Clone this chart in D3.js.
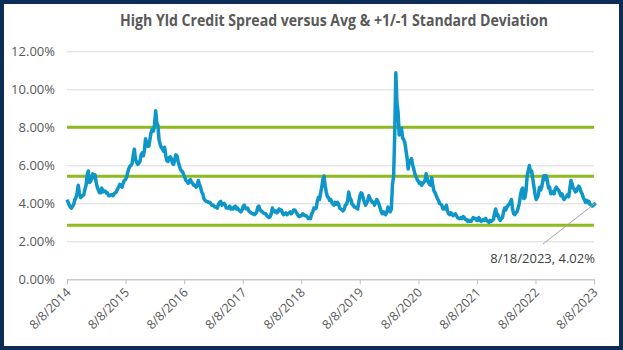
<!DOCTYPE html>
<html><head><meta charset="utf-8">
<script src="https://cdn.jsdelivr.net/npm/d3@7"></script>
<style>
html,body{margin:0;padding:0;background:#fff;}
svg{display:block;}
text{font-family:"Open Sans","Liberation Sans",sans-serif;}
</style></head>
<body><svg id="c" width="623" height="350"></svg>
<script>
const title = "High Yld Credit Spread versus Avg & +1/-1 Standard Deviation";
const startDate = "2014-08-08";
const stepDays = 7;
const spread2014 = [4.19,4.05,3.90,3.80, 3.75,3.85,3.95,4.20, 4.30,4.55,4.95,4.55,4.30, 4.35,4.40,4.45,4.75, 4.95,5.50,5.70,5.10, 5.15,5.30,5.55,5.35,5.50, 5.10,4.85,4.70,4.55, 4.55,4.80,4.60,4.65, 4.65,4.55,4.55,4.40, 4.40,4.45,4.45,4.40,4.50, 4.55,4.60,4.75,4.85, 5.00,4.95,4.85,5.05,5.20];
const spread2015 = [5.25,5.35,5.60,5.80, 5.95,6.00,6.10,6.50, 6.85,6.35,6.15,6.05,6.10, 6.20,6.55,6.65,6.50, 6.80,7.40,7.15,7.00, 7.00,7.40,7.75,7.90,7.80, 8.15,8.87,8.25,8.10, 7.35,7.10,6.95,6.85, 6.75,6.95,6.50,6.25,6.20, 6.40,6.45,6.35,6.10, 6.05,6.30,6.55,6.50, 6.20,6.00,5.80,5.70,5.65, 5.50];
const spread2016 = [5.35,5.20,5.15, 5.05,5.20,5.25,5.10,5.05, 4.95,4.95,4.85,4.90, 5.20,5.00,4.85,4.60, 4.50,4.25,4.15,4.10,4.10, 4.05,4.05,4.00,3.90, 3.90,3.85,3.80,3.80, 3.75,3.95,4.05,4.10,3.90, 3.95,4.00,3.90,3.75, 3.75,3.75,3.85,3.70, 3.75,3.70,3.80,3.85,3.70, 3.75,3.65,3.60,3.55, 3.65];
const spread2017 = [3.85,3.90,3.75, 3.70,3.75,3.60,3.55,3.50, 3.45,3.45,3.40,3.45, 3.55,3.80,3.85,3.65, 3.60,3.55,3.50,3.45,3.45, 3.35,3.30,3.25,3.30, 3.45,3.75,3.60,3.55, 3.60,3.50,3.55,3.70,3.65, 3.65,3.50,3.40,3.45, 3.50,3.40,3.45,3.50, 3.55,3.45,3.55,3.65,3.65, 3.55,3.45,3.35,3.30, 3.35];
const spread2018 = [3.35,3.45,3.40,3.35, 3.35,3.30,3.20,3.20, 3.20,3.45,3.55,3.75, 3.70,3.75,4.10,4.30,4.20, 4.55,4.85,5.25,5.44, 4.95,4.60,4.35,4.30, 4.15,4.20,4.05,3.95, 3.90,4.05,3.95,4.05,3.95, 3.75,3.70,3.65,3.60, 3.70,3.90,3.95,4.10,4.60, 4.30,4.20,3.95,3.90, 3.80,3.80,3.75,3.70, 4.05];
const spread2019 = [4.40,4.55,4.50,4.25, 4.05,3.90,4.00,4.15, 4.40,4.25,4.15,4.05, 4.05,3.90,4.05,4.20,4.10, 3.95,3.75,3.55,3.45, 3.55,3.45,3.40,3.55,3.80, 3.65,3.55,3.70,5.00, 5.40,7.60,10.87,9.30, 8.80,7.60,7.85,7.95, 7.45,7.35,7.20,6.80,6.40, 5.80,6.25,6.15,6.35, 6.00,5.80,5.55,5.40,5.25, 5.15];
const spread2020 = [5.05,5.10,4.95, 5.05,5.10,5.20,5.55, 5.30,5.10,5.00,4.95,5.35, 4.90,4.65,4.55,4.40, 4.25,4.15,4.00,3.95, 3.90,3.70,3.75,3.70,3.90, 3.60,3.45,3.40,3.50, 3.45,3.35,3.40,3.45, 3.35,3.25,3.20,3.20,3.25, 3.20,3.30,3.25,3.15, 3.15,3.05,3.10,3.05, 3.05,3.15,3.25,3.20,3.20, 3.10];
const spread2021 = [3.10,3.25,3.10, 3.05,3.10,3.15,3.10, 3.20,3.10,3.05,3.00,3.10, 3.05,3.10,3.15,3.50, 3.70,3.35,3.40,3.20,3.10, 3.20,3.25,3.55,3.75, 3.65,3.80,3.90,3.95, 4.05,4.20,3.70,3.45, 3.40,3.50,3.55,3.75,4.00, 4.40,4.70,4.80,4.25, 4.30,4.65,5.45,5.70, 5.99,5.65,5.70,5.30,4.90, 4.50];
const spread2022 = [4.20,4.30,4.45, 4.85,4.70,4.85,5.20,5.45, 5.25,5.45,5.20,4.80, 4.85,4.50,4.55,4.60, 4.50,4.75,4.85,4.75,4.70, 4.55,4.40,4.50,4.30, 4.20,4.30,4.35,4.45, 4.35,4.75,5.20,5.05,4.80, 4.75,4.60,4.65,4.80, 4.90,4.80,4.60,4.50, 4.30,4.20,4.05,4.15,4.05, 4.10,3.95,3.90,3.85, 3.90,3.95,4.02];
const tickDates = ["2014-08-08","2015-08-08","2016-08-08","2017-08-08","2018-08-08","2019-08-08","2020-08-08","2021-08-08","2022-08-08","2023-08-08"];
const yTicks = [0,2,4,6,8,10,12];
const bandLevels = [2.84, 5.42, 8.00]; // -1 SD, average, +1 SD

const spreads = [].concat(spread2014,spread2015,spread2016,spread2017,spread2018,spread2019,spread2020,spread2021,spread2022);
const parse = d3.utcParse("%Y-%m-%d");
const t0 = parse(startDate);
const data = spreads.map((v,i)=>({date:d3.utcDay.offset(t0, i*stepDays), value:v}));

const svg = d3.select("#c");
const W=623,H=350;
const M={left:67,right:594,top:51.3,bottom:279.3};

svg.append("rect").attr("x",2).attr("y",2).attr("width",W-4).attr("height",H-4)
  .attr("fill","#fff").attr("stroke","#0d2d57").attr("stroke-width",4);

const x = d3.scaleUtc().domain([parse(tickDates[0]), parse(tickDates[tickDates.length-1])]).range([M.left,M.right]);
const y = d3.scaleLinear().domain([0,12]).range([M.bottom,M.top]);

// title
svg.append("text").attr("x",334).attr("y",26).attr("text-anchor","middle")
  .attr("font-size",15.5).attr("font-weight","bold").attr("fill","#595959")
  .attr("textLength",428).attr("lengthAdjust","spacingAndGlyphs").text(title);

// grid
const yAxis = d3.axisLeft(y).tickValues(yTicks).tickSize(-(M.right-M.left)).tickFormat(d=>d3.format(".2f")(d)+"%");
const gy = svg.append("g").attr("transform",`translate(${M.left},0)`).call(yAxis);
gy.select(".domain").remove();
gy.selectAll(".tick line").attr("stroke","#d9d9d9").attr("stroke-width",1);
gy.selectAll(".tick text").attr("x",-12).attr("font-size",13).attr("fill","#595959")
  .attr("font-family","'Liberation Sans',sans-serif");

// x axis
const xAxis = d3.axisBottom(x).tickValues(tickDates.map(parse)).tickSize(5)
  .tickFormat(d=>`${d.getUTCMonth()+1}/${d.getUTCDate()}/${d.getUTCFullYear()}`);
const gx = svg.append("g").attr("transform",`translate(0,${M.bottom})`).call(xAxis);
gx.select(".domain").attr("stroke","#bfbfbf");
gx.selectAll(".tick line").attr("stroke","#bfbfbf");
gx.selectAll(".tick text").attr("font-size",12.5).attr("fill","#595959")
  .attr("font-family","'Liberation Sans',sans-serif")
  .attr("text-anchor","end").attr("dy",0).attr("y",0)
  .attr("transform","translate(4,14) rotate(-45)");

// band lines
svg.append("g").selectAll("line").data(bandLevels).join("line")
  .attr("x1",M.left).attr("x2",M.right).attr("y1",d=>y(d)).attr("y2",d=>y(d))
  .attr("stroke","#8cba1f").attr("stroke-width",3);

// series
const line = d3.line().x(d=>x(d.date)).y(d=>y(d.value));
svg.append("path").datum(data).attr("d",line).attr("fill","none")
  .attr("stroke","#0e96c9").attr("stroke-width",3.5).attr("stroke-linejoin","round");

// annotation
const last = data[data.length-1];
const fmt = d3.utcFormat("%-m/%-d/%Y");
svg.append("line").attr("x1",x(last.date)).attr("y1",y(last.value)).attr("x2",543).attr("y2",244)
  .attr("stroke","#a6a6a6").attr("stroke-width",1);
svg.append("text").attr("x",595).attr("y",263).attr("text-anchor","end")
  .attr("font-size",13).attr("fill","#404040").attr("font-family","'Liberation Sans',sans-serif")
  .text(`${fmt(last.date)}, ${last.value.toFixed(2)}%`);
</script></body></html>
